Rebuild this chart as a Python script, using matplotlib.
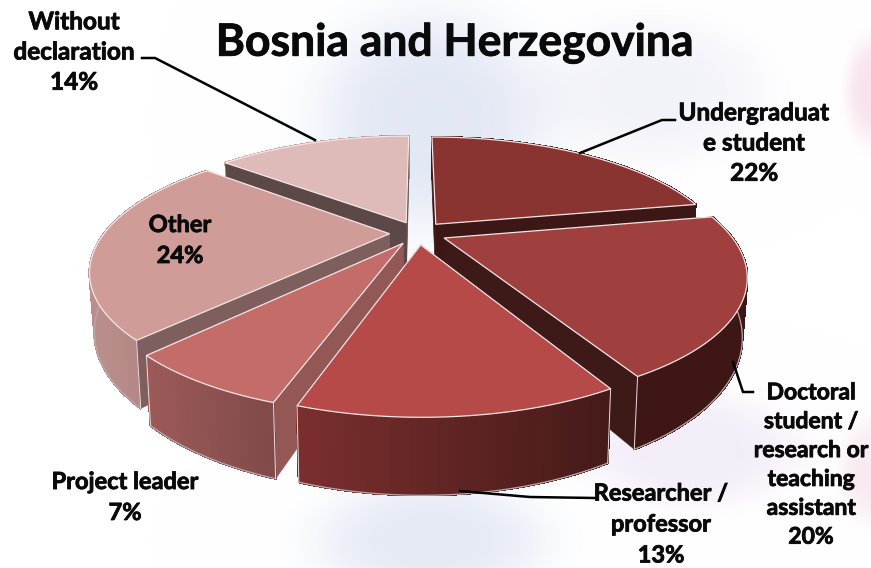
import numpy as np
import matplotlib
matplotlib.use('Agg')
import matplotlib.pyplot as plt
import matplotlib.patheffects as pe
from matplotlib.collections import PolyCollection
from matplotlib.colors import to_rgb

title = 'Bosnia and Herzegovina'
categories = ['Undergraduat\ne student', 'Doctoral\nstudent /\nresearch or\nteaching\nassistant',
              'Researcher /\nprofessor', 'Project leader', 'Other', 'Without\ndeclaration']
values = [22, 20, 13, 7, 24, 14]
topColors = ['#8a3432', '#a0403e', '#b54a48', '#c46c6a', '#d09c98', '#debbb9']
wallLeft = ['#4a1c1b', '#3d1615', '#7a2f2e', '#9c5a59', '#bb8f8c', '#c9a5a3']
wallRight = ['#3d1615', '#3d1615', '#451a19', '#7f4a49', '#a67c7a', '#b59290']
sideColors = ['#3c1716', '#3d1918', '#451a19', '#935856', '#7f5f5d', '#5c4847']
labelPos = [(754, 143), (811, 465), (661, 524), (125, 497), (180, 240), (74, 52)]
fontSizes = [17.5, 16.5, 17, 17, 17, 17.5]
leaders = [[(580, 153), (662, 120), (675, 120)],
           [(733, 362), (743, 392), (753, 392)],
           [(460, 491), (530, 497), (595, 498)],
           [(315, 140), (155, 58), (142, 58)]]

# perspective of the pie plane
cx, cy = 418, 233
R, S, k = 285, 116, 0.28
explode = 0.1
depth = 54


def project(x, y):
    w = 1 + k * y
    return cx + R * x / w, cy - S * y / w, depth / w


def top(x, y):
    px, py, d = project(x, y)
    return np.column_stack([px, py])


def bottom(x, y):
    px, py, d = project(x, y)
    return np.column_stack([cx + (px - cx) * 0.985, py + d])


def mix(a, b, t):
    a, b = np.array(to_rgb(a)), np.array(to_rgb(b))
    return tuple(a + (b - a) * t)


fig = plt.figure(figsize=(8.71, 5.68), dpi=100)
ax = fig.add_axes([0, 0, 1, 1])
ax.set_xlim(0, 871)
ax.set_ylim(568, 0)
ax.axis('off')

# faint backdrop
yy, xx = np.mgrid[0:568, 0:871]
shade = np.ones((568, 871, 3))
for bx, by, sx, sy, col, amt in [(430, 120, 115, 110, (0.89, 0.91, 0.96), 1.0),
                                 (650, 90, 110, 70, (0.93, 0.93, 0.97), 0.7),
                                 (430, 540, 115, 60, (0.89, 0.91, 0.96), 0.9),
                                 (690, 450, 110, 55, (0.93, 0.90, 0.96), 0.7),
                                 (870, 90, 25, 50, (0.97, 0.88, 0.92), 0.9),
                                 (870, 470, 30, 50, (0.97, 0.90, 0.93), 0.8)]:
    g = amt * np.exp(-(((xx - bx) / sx) ** 2 + ((yy - by) / sy) ** 2) ** 2)
    for c in range(3):
        shade[:, :, c] -= g * (1 - col[c])
ax.imshow(np.clip(shade, 0, 1), extent=(0, 871, 568, 0), aspect='auto', zorder=0)

angles = np.cumsum([0] + values) / sum(values) * 2 * np.pi
drawOrder = [5, 0, 4, 1, 3, 2]
z = 2
for i in drawOrder:
    a0, a1 = angles[i], angles[i + 1]
    mid = (a0 + a1) / 2
    ex, ey = explode * np.sin(mid), explode * np.cos(mid)
    t = np.linspace(a0, a1, 120)
    ox, oy = ex + np.sin(t), ey + np.cos(t)
    tp, bt = top(ox, oy), bottom(ox, oy)

    # walls go back to front, farther one first
    parts = [(oy.mean(), 'outer', None, None)]
    for a in (a0, a1):
        rx = np.array([ex, ex + np.sin(a)])
        ry = np.array([ey, ey + np.cos(a)])
        parts.append((ry.mean(), 'side', rx, ry))
    parts.sort(key=lambda item: -item[0])

    for _, kind, rx, ry in parts:
        z += 1
        if kind == 'side':
            poly = np.vstack([top(rx, ry), bottom(rx, ry)[::-1]])
            ax.fill(poly[:, 0], poly[:, 1], color=sideColors[i], lw=0.5, zorder=z)
        else:
            quads, cols = [], []
            xmin, xmax = tp[:, 0].min(), tp[:, 0].max()
            for j in range(len(t) - 1):
                quads.append([tp[j], tp[j + 1], bt[j + 1], bt[j]])
                cols.append(mix(wallLeft[i], wallRight[i], (tp[j, 0] - xmin) / (xmax - xmin)))
            ax.add_collection(PolyCollection(quads, facecolors=cols, edgecolors=cols, linewidths=1.0,
                                             antialiaseds=False, zorder=z))
            front = oy < 0.1
            ax.plot(bt[front, 0], bt[front, 1], color='#b9a9a9', lw=0.9, zorder=z)

    # corner lines only where the corner faces the viewer
    z += 1
    for e in (0, -1):
        if oy[e] < 0.1:
            ax.plot([tp[e, 0], bt[e, 0]], [tp[e, 1], bt[e, 1]], color='#eadcdc', lw=0.7, zorder=z)

    # top face
    rimx = np.concatenate([[ex], ox])
    rimy = np.concatenate([[ey], oy])
    face = top(rimx, rimy)
    ax.fill(face[:, 0], face[:, 1], color=topColors[i], ec='#f3e6e6', lw=0.9, zorder=z)
    z += 1

for pts in leaders:
    ax.plot([p[0] for p in pts], [p[1] for p in pts], color='black', lw=1.8, zorder=40)

stroke = [pe.withStroke(linewidth=0.6, foreground='#0a0a0a')]
for name, val, (lx, ly), fs in zip(categories, values, labelPos, fontSizes):
    ax.text(lx, ly, f'{name}\n{val}%', ha='center', va='center', family='Lato', fontweight='bold',
            fontsize=fs, color='#0a0a0a', linespacing=23.2 / fs * 1.04, zorder=50, path_effects=stroke)

ax.text(455, 43, title, ha='center', va='center', family='Lato', fontweight='bold',
        fontsize=32, color='#0a0a0a', zorder=50, path_effects=stroke)

fig.savefig('out.png', dpi=100)
